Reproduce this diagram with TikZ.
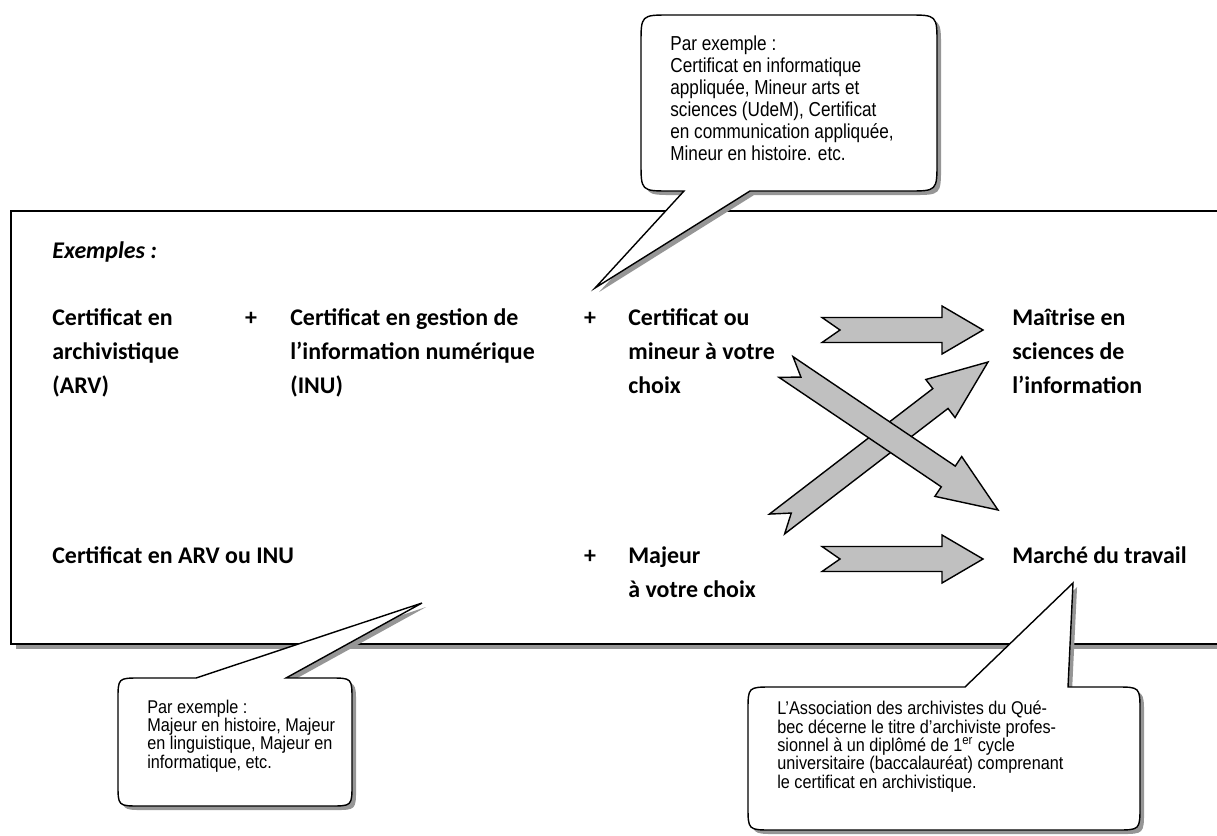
\documentclass[tikz,border=0pt]{standalone}
\usepackage{fontspec}
\usetikzlibrary{calc}
\newfontfamily\calibri{Carlito}
\newfontfamily\narrow[FakeStretch=0.88]{Liberation Sans}
\newfontfamily\widenarrow[FakeStretch=0.85]{Liberation Sans}
\definecolor{arrowgray}{RGB}{192,192,192}
\definecolor{shadowgray}{RGB}{150,150,150}
\lineskiplimit=-100pt
\tikzset{
  course/.style={anchor=base west, align=left, inner sep=0pt, font=\calibri\bfseries\fontsize{13.6}{19.3}\selectfont},
  plus/.style={anchor=base, inner sep=0pt, font=\calibri\bfseries\fontsize{13.6}{19.3}\selectfont},
  note/.style={anchor=base west, align=left, inner sep=0pt, font=\narrow\fontsize{10.5}{10.4}\selectfont},
  frame/.style={draw, line width=1.1pt, fill=white, preaction={fill=shadowgray, transform canvas={shift={(2.8pt,-2.8pt)}}}},
  bubble/.style={draw, line width=0.8pt, fill=white, line join=miter, preaction={fill=shadowgray, transform canvas={shift={(2.3pt,-2.3pt)}}}},
  blockarr/.style={draw, line width=0.8pt, fill=arrowgray, line join=miter}
}
\newcommand{\blockarrow}[3][0.82cm]{%
  \draw[blockarr] ($(#2)!0.25cm!90:(#3)$) -- ($(#3)!#1!(#2)!0.25cm!-90:(#2)$)
    -- ($(#3)!#1!(#2)!0.48cm!-90:(#2)$) -- (#3)
    -- ($(#3)!#1!(#2)!0.48cm!90:(#2)$) -- ($(#3)!#1!(#2)!0.25cm!90:(#2)$)
    -- ($(#2)!0.25cm!-90:(#3)$) -- ($(#2)!0.36cm!(#3)$) -- cycle;}

\begin{document}
\begin{tikzpicture}[x=0.02cm, y=-0.02cm]
\useasboundingbox (0,0) rectangle (1217,835);
\clip (0,0) rectangle (1217,835);
\draw[frame] (11,211) rectangle (1260,644);

% base anchor sits on the last line of each text
\node[course, font=\calibri\bfseries\itshape\fontsize{13.6}{19.3}\selectfont] (ex) at (52,258) {Exemples :};
\node[course] (arv) at (52,393) {Certificat en\\archivistique\\(ARV)};
\node[plus] (p1) at (251,325) {+};
\node[course] (inu) at (290,393) {Certificat en gestion de\\l’information numérique\\(INU)};
\node[plus] (p2) at (590,325) {+};
\node[course] (choix) at (628,393) {Certificat ou\\mineur à votre\\choix};
\node[course] (msi) at (1012,393) {Maîtrise en\\sciences de\\l’information};
\node[course] (arvinu) at (52,563) {Certificat en ARV ou INU};
\node[plus] (p3) at (590,563) {+};
\node[course] (majeur) at (628,597) {Majeur\\à votre choix};
\node[course] (marche) at (1012,563) {Marché du travail};

\coordinate (a1) at (822,330); \coordinate (b1) at (983,330);
\coordinate (a2) at (786,367); \coordinate (b2) at (998,510);
\coordinate (a3) at (777,524); \coordinate (b3) at (988,362);
\coordinate (a4) at (822,559); \coordinate (b4) at (983,559);
\blockarrow{a1}{b1}
\blockarrow[1.2cm]{a3}{b3}
\blockarrow[1.2cm]{a2}{b2}
\blockarrow{a4}{b4}

\coordinate (toptip) at (595,288);
\coordinate (bltip) at (422,603);
\coordinate (brtip) at (1073,583);
\draw[bubble] (750,191) -- (toptip) -- (684,191) -- (670,191) .. controls (641,191) .. (641,162) -- (641,44) .. controls (641,15) .. (670,15) -- (908,15) .. controls (937,15) .. (937,44) -- (937,162) .. controls (937,191) .. (908,191) -- cycle;
\draw[bubble] (196,678) -- (bltip) -- (286,678) -- (330,678) .. controls (352,678) .. (352,700) -- (352,784) .. controls (352,806) .. (330,806) -- (140,806) .. controls (118,806) .. (118,784) -- (118,700) .. controls (118,678) .. (140,678) -- cycle;
\draw[bubble] (965,687) -- (brtip) -- (1068,687) -- (1116,687) .. controls (1140,687) .. (1140,711) -- (1140,806) .. controls (1140,830) .. (1116,830) -- (772,830) .. controls (748,830) .. (748,806) -- (748,711) .. controls (748,687) .. (772,687) -- cycle;

\node[note, font=\widenarrow\fontsize{11.5}{12.5}\selectfont] (topnote) at (670,160) {Par exemple :\\Certificat en informatique\\appliquée, Mineur arts et\\sciences (UdeM), Certificat\\en communication appliquée,\\Mineur en histoire. etc.};
\node[note] (blnote) at (147,768) {Par exemple :\\Majeur en histoire, Majeur\\en linguistique, Majeur en\\informatique, etc.};
\node[note] (brnote) at (777,788) {L’Association des archivistes du Qué-\\bec décerne le titre d’archiviste profes-\\sionnel à un diplômé de 1\textsuperscript{er} cycle\\universitaire (baccalauréat) comprenant\\le certificat en archivistique.};
\end{tikzpicture}
\end{document}
